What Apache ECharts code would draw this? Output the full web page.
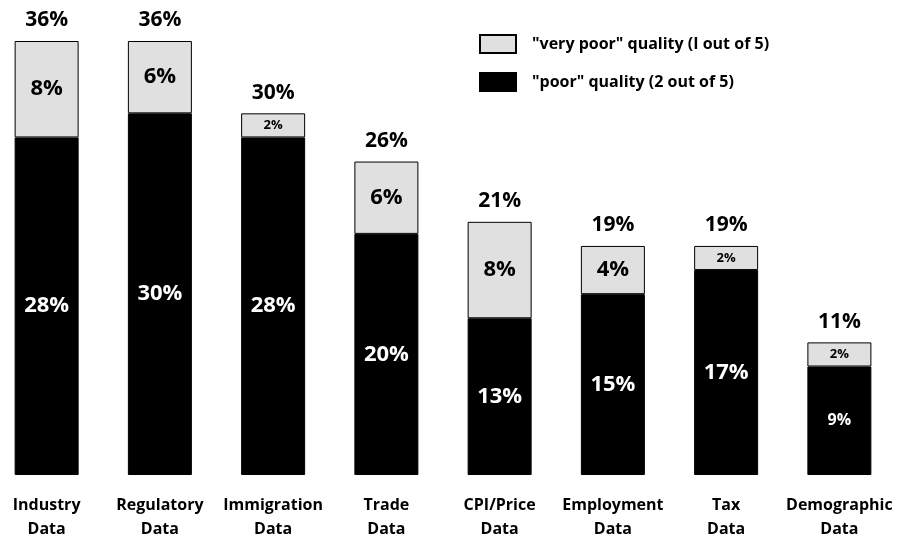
<!DOCTYPE html>
<html>
<head>
<meta charset="utf-8">
<script src="https://cdn.jsdelivr.net/npm/echarts@6/dist/echarts.min.js"></script>
<style>
  html, body { margin: 0; padding: 0; background: #fff; overflow: hidden; }
  #chart { position: absolute; left: -10px; top: 0; width: 916px; height: 541px; }
</style>
</head>
<body>
<div id="chart"></div>
<script>
var categories = ['Industry\nData', 'Regulatory\nData', 'Immigration\nData', 'Trade\nData',
	'CPI/Price\nData', 'Employment\nData', 'Tax\nData', 'Demographic\nData'];
var poor = [28, 30, 28, 20, 13, 15, 17, 9];
var veryPoor = [8, 6, 2, 6, 8, 4, 2, 2];
var totals = [36, 36, 30, 26, 21, 19, 19, 11];

var poorName = '"poor" quality (2 out of 5)';
var veryPoorName = '"very poor" quality (I out of 5)';
var font = '"Open Sans"';

// short segments get a smaller label
function segLabel(val, color, small) {
	return {
		value: val,
		label: { fontSize: val <= small ? (small > 2 ? 16 : 13) : 22, color: color }
	};
}

var myChart = echarts.init(document.getElementById('chart'));

var option = {
	animation: false,
	textStyle: { fontFamily: font },
	grid: { left: 0, right: 10, top: 41, bottom: 64 },
	legend: {
		orient: 'vertical',
		left: 489,
		top: 34,
		padding: 0,
		icon: 'rect',
		itemWidth: 36,
		itemHeight: 18,
		itemGap: 18,
		data: [veryPoorName, poorName],
		textStyle: { fontFamily: font, fontWeight: 'bold', fontSize: 16, color: '#000', padding: [0, 0, 0, 11] }
	},
	xAxis: {
		type: 'category',
		data: categories,
		axisLine: { show: false },
		axisTick: { show: false },
		axisLabel: {
			margin: 18,
			interval: 0,
			color: '#000',
			fontFamily: font,
			fontWeight: 'bold',
			fontSize: 16,
			lineHeight: 24
		}
	},
	yAxis: {
		type: 'value',
		min: 0,
		max: 36,
		show: false,
		splitLine: { show: false }
	},
	series: [{
		name: poorName,
		type: 'bar',
		stack: 'q',
		barWidth: 64,
		itemStyle: { color: '#000', borderColor: '#000', borderWidth: 1 },
		label: {
			show: true,
			position: 'inside',
			formatter: '{c}%',
			fontFamily: font,
			fontWeight: 'bold',
			color: '#fff'
		},
		data: poor.map(function (v) { return segLabel(v, '#fff', 9); })
	}, {
		name: veryPoorName,
		type: 'bar',
		stack: 'q',
		barWidth: 64,
		itemStyle: { color: '#e0e0e0', borderColor: '#000', borderWidth: 1 },
		label: {
			show: true,
			position: 'inside',
			formatter: '{c}%',
			fontFamily: font,
			fontWeight: 'bold',
			color: '#000'
		},
		data: veryPoor.map(function (v) { return segLabel(v, '#000', 2); })
	}, {
		name: 'total',
		type: 'bar',
		barWidth: 64,
		barGap: '-100%',
		silent: true,
		z: 1,
		itemStyle: { color: 'rgba(0,0,0,0)' },
		label: {
			show: true,
			position: 'top',
			distance: 10,
			formatter: '{c}%',
			fontFamily: font,
			fontWeight: 'bold',
			fontSize: 21,
			color: '#000'
		},
		data: totals
	}]
};

myChart.setOption(option);
</script>
</body>
</html>
